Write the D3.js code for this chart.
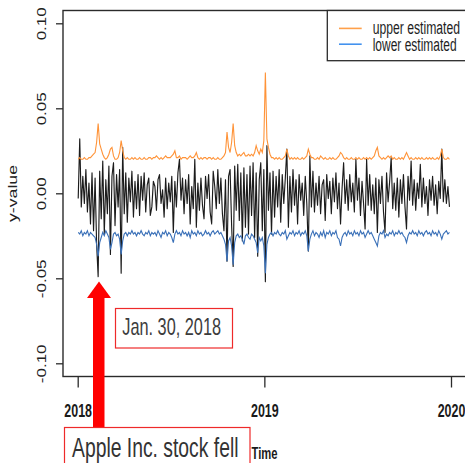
<!DOCTYPE html>
<html>
<head>
<meta charset="utf-8">
<script src="https://cdn.jsdelivr.net/npm/d3@7"></script>
<style>
  html, body { margin: 0; padding: 0; background: #fff; overflow: hidden; }
  svg { display: block; }
  text { font-family: "Liberation Sans", Arial, sans-serif; }
</style>
</head>
<body>
<svg id="chart" width="465" height="463"></svg>
<script>
// ---- data ----------------------------------------------------------------
const yTicks = [-0.10, -0.05, 0.00, 0.05, 0.10];
const yearTicks = ["2018", "2019", "2020"];
const seriesStart = "2018-01-02";   // first observation
const stepDays = 3;                 // spacing between observations

const observed = [
  -0.003, 0.032, -0.008, 0.010, -0.006, 0.014, -0.011, 0.006, -0.018, 0.012,
  -0.022, 0.009, -0.030, -0.049, 0.013, -0.015, 0.019, -0.024, 0.008, -0.012,
  0.016, -0.036, 0.010, 0.018, -0.019, 0.011, -0.008, 0.014, -0.047, 0.027,
  -0.012, 0.012, -0.017, 0.009, -0.005, 0.013, -0.014, 0.007, -0.009, 0.011,
  -0.013, 0.010, -0.004, 0.012, -0.011, 0.005, 0.009, -0.013, -0.008, 0.007,
  0.004, -0.010, 0.008, 0.011, -0.006, 0.002, -0.014, 0.009, -0.009, 0.006,
  -0.005, 0.010, -0.023, 0.007, -0.008, 0.012, 0.020, -0.004, 0.009, -0.012,
  0.008, -0.006, 0.011, -0.018, 0.004, -0.009, 0.020, -0.020, 0.006, -0.010,
  0.009, -0.007, -0.015, 0.010, -0.003, 0.011, -0.011, -0.018, 0.013, 0.004,
  -0.009, 0.014, -0.006, 0.009, -0.012, -0.022, 0.008, -0.040, 0.010, 0.014,
  -0.019, -0.043, 0.016, -0.010, 0.017, -0.016, 0.012, -0.028, 0.015, -0.020,
  0.011, -0.024, 0.016, -0.013, 0.018, -0.026, 0.012, -0.037, 0.008, 0.018,
  -0.022, 0.014, -0.052, 0.028, -0.010, 0.012, -0.024, 0.013, -0.014, 0.010,
  -0.008, 0.014, -0.017, 0.011, -0.006, 0.009, 0.026, -0.020, 0.010, -0.011,
  0.014, -0.007, 0.008, -0.018, 0.011, -0.004, 0.006, -0.013, 0.010, -0.006,
  -0.034, 0.022, -0.008, 0.013, -0.011, 0.006, -0.007, 0.010, -0.012, 0.005,
  0.008, -0.016, 0.011, -0.003, 0.007, -0.012, 0.009, -0.005, 0.012, -0.009,
  0.006, -0.018, 0.003, 0.018, -0.006, 0.008, -0.010, 0.011, -0.005, 0.006,
  -0.011, 0.020, -0.004, 0.009, -0.013, 0.007, -0.006, -0.021, 0.020, -0.007,
  0.011, -0.010, 0.005, -0.012, 0.009, -0.023, 0.008, -0.006, 0.010, -0.011,
  -0.023, 0.012, -0.005, 0.007, 0.021, -0.009, 0.006, -0.010, 0.009, -0.014,
  0.008, -0.006, 0.011, -0.008, -0.021, 0.010, -0.004, 0.019, -0.007, 0.008,
  -0.010, 0.006, -0.003, 0.017, -0.008, 0.009, -0.006, 0.004, -0.013, 0.008,
  -0.004, 0.010, -0.007, 0.005, -0.012, 0.007, -0.003, 0.026, -0.005, 0.008,
  -0.006, 0.004, -0.008
];

const upperEstimated = [
  0.020, 0.021, 0.020, 0.020, 0.021, 0.020, 0.020, 0.021, 0.021, 0.022,
  0.023, 0.024, 0.030, 0.041, 0.029, 0.026, 0.023, 0.021, 0.020, 0.021,
  0.023, 0.026, 0.027, 0.022, 0.020, 0.020, 0.021, 0.024, 0.031, 0.025,
  0.021, 0.020, 0.021, 0.020, 0.020, 0.021, 0.020, 0.021, 0.020, 0.020,
  0.021, 0.020, 0.020, 0.021, 0.020, 0.020, 0.021, 0.021, 0.020, 0.021,
  0.021, 0.022, 0.021, 0.020, 0.021, 0.020, 0.021, 0.022, 0.021, 0.021,
  0.021, 0.022, 0.023, 0.025, 0.021, 0.021, 0.022, 0.020, 0.021, 0.021,
  0.021, 0.020, 0.021, 0.022, 0.021, 0.021, 0.022, 0.024, 0.021, 0.020,
  0.021, 0.020, 0.021, 0.021, 0.020, 0.021, 0.021, 0.020, 0.021, 0.020,
  0.020, 0.021, 0.020, 0.020, 0.021, 0.022, 0.024, 0.036, 0.027, 0.024,
  0.030, 0.041, 0.028, 0.024, 0.022, 0.023, 0.022, 0.023, 0.024, 0.022,
  0.022, 0.023, 0.022, 0.023, 0.022, 0.024, 0.028, 0.025, 0.023, 0.026,
  0.024, 0.031, 0.071, 0.032, 0.027, 0.023, 0.021, 0.021, 0.020, 0.021,
  0.020, 0.021, 0.020, 0.020, 0.021, 0.022, 0.026, 0.022, 0.020, 0.021,
  0.020, 0.021, 0.020, 0.021, 0.020, 0.020, 0.021, 0.020, 0.021, 0.022,
  0.026, 0.023, 0.021, 0.021, 0.020, 0.020, 0.021, 0.020, 0.022, 0.021,
  0.020, 0.021, 0.020, 0.020, 0.021, 0.020, 0.021, 0.020, 0.020, 0.021,
  0.022, 0.024, 0.023, 0.021, 0.020, 0.021, 0.020, 0.020, 0.021, 0.020,
  0.020, 0.021, 0.020, 0.021, 0.020, 0.020, 0.021, 0.020, 0.021, 0.020,
  0.021, 0.020, 0.021, 0.022, 0.025, 0.027, 0.022, 0.021, 0.020, 0.021,
  0.020, 0.021, 0.022, 0.021, 0.022, 0.020, 0.021, 0.020, 0.020, 0.021,
  0.020, 0.021, 0.020, 0.022, 0.024, 0.022, 0.020, 0.021, 0.020, 0.020,
  0.021, 0.020, 0.021, 0.020, 0.021, 0.020, 0.020, 0.021, 0.020, 0.021,
  0.020, 0.021, 0.020, 0.020, 0.021, 0.020, 0.022, 0.026, 0.021, 0.020,
  0.020, 0.021, 0.020
];

const lowerEstimated = [
  -0.023, -0.024, -0.022, -0.025, -0.023, -0.024, -0.022, -0.025, -0.023, -0.024,
  -0.025, -0.026, -0.030, -0.037, -0.029, -0.026, -0.023, -0.025, -0.022, -0.024,
  -0.026, -0.033, -0.029, -0.024, -0.023, -0.025, -0.024, -0.027, -0.036, -0.028,
  -0.024, -0.023, -0.025, -0.023, -0.024, -0.022, -0.024, -0.023, -0.025, -0.023,
  -0.024, -0.022, -0.024, -0.025, -0.023, -0.024, -0.022, -0.025, -0.023, -0.024,
  -0.023, -0.025, -0.022, -0.024, -0.026, -0.023, -0.024, -0.022, -0.025, -0.023,
  -0.024, -0.026, -0.029, -0.024, -0.022, -0.024, -0.023, -0.025, -0.022, -0.024,
  -0.023, -0.025, -0.023, -0.026, -0.022, -0.024, -0.023, -0.025, -0.022, -0.024,
  -0.023, -0.025, -0.024, -0.022, -0.024, -0.023, -0.025, -0.023, -0.022, -0.024,
  -0.023, -0.022, -0.024, -0.023, -0.025, -0.027, -0.030, -0.040, -0.028, -0.026,
  -0.031, -0.042, -0.029, -0.025, -0.024, -0.026, -0.025, -0.027, -0.030, -0.025,
  -0.024, -0.026, -0.027, -0.024, -0.025, -0.027, -0.029, -0.035, -0.026, -0.028,
  -0.026, -0.031, -0.047, -0.030, -0.026, -0.024, -0.023, -0.025, -0.023, -0.024,
  -0.022, -0.024, -0.025, -0.023, -0.024, -0.022, -0.027, -0.025, -0.023, -0.024,
  -0.022, -0.025, -0.023, -0.024, -0.022, -0.025, -0.023, -0.024, -0.022, -0.025,
  -0.034, -0.027, -0.024, -0.022, -0.025, -0.023, -0.024, -0.026, -0.023, -0.025,
  -0.022, -0.026, -0.023, -0.024, -0.022, -0.025, -0.023, -0.024, -0.022, -0.026,
  -0.027, -0.031, -0.026, -0.024, -0.023, -0.025, -0.022, -0.024, -0.023, -0.025,
  -0.022, -0.024, -0.023, -0.025, -0.022, -0.024, -0.023, -0.026, -0.024, -0.022,
  -0.024, -0.023, -0.025, -0.027, -0.029, -0.031, -0.025, -0.023, -0.024, -0.022,
  -0.026, -0.024, -0.025, -0.023, -0.024, -0.022, -0.025, -0.023, -0.024, -0.022,
  -0.024, -0.023, -0.025, -0.026, -0.029, -0.025, -0.023, -0.024, -0.022, -0.024,
  -0.023, -0.025, -0.022, -0.024, -0.023, -0.025, -0.023, -0.022, -0.024, -0.023,
  -0.025, -0.022, -0.024, -0.023, -0.025, -0.022, -0.024, -0.027, -0.024, -0.023,
  -0.022, -0.024, -0.023
];

const legendLabels = ["upper estimated", "lower estimated"];
const annotationDate = "Jan. 30, 2018";
const annotationEvent = "Apple Inc. stock fell";

// ---- layout --------------------------------------------------------------
const svg = d3.select("#chart");
const box = { left: 63, top: 10.5, right: 490, bottom: 376.5 };
const squeeze = 0.7;   // horizontal squeeze used for rotated labels
const ink = "#2b2b2b";

const parseDay = d3.timeParse("%Y-%m-%d");
const start = parseDay(seriesStart);
const withDates = vals => vals.map((v, i) => ({ date: d3.timeDay.offset(start, i * stepDays), v }));

const x = d3.scaleTime()
  .domain([new Date(2018, 0, 1), new Date(2020, 0, 1)])
  .range([77.7, 451]);
const y = d3.scaleLinear().domain([-0.10, 0.10]).range([363.3, 23.3]);

const line = d3.line().x(d => x(d.date)).y(d => y(d.v));

// series
svg.append("path").datum(withDates(observed))
  .attr("d", line).attr("fill", "none")
  .attr("stroke", "#1c1c1c").attr("stroke-width", 1.15).attr("stroke-linejoin", "round");
svg.append("path").datum(withDates(upperEstimated))
  .attr("d", line).attr("fill", "none")
  .attr("stroke", "#ff9338").attr("stroke-width", 1.1);
svg.append("path").datum(withDates(lowerEstimated))
  .attr("d", line).attr("fill", "none")
  .attr("stroke", "#3a70b8").attr("stroke-width", 1.1);

// plot frame
svg.append("rect")
  .attr("x", box.left).attr("y", box.top)
  .attr("width", box.right - box.left).attr("height", box.bottom - box.top)
  .attr("fill", "none").attr("stroke", ink).attr("stroke-width", 1.4);

// y axis
const yAxis = svg.append("g").attr("transform", `translate(${box.left},0)`)
  .call(d3.axisLeft(y).tickValues(yTicks).tickSize(7).tickFormat(d => d.toFixed(2)));
yAxis.select(".domain").remove();
yAxis.selectAll(".tick line").attr("stroke", ink).attr("stroke-width", 1.3);
yAxis.selectAll(".tick text")
  .attr("x", null).attr("dy", null)
  .attr("text-anchor", "middle")
  .attr("font-size", 17)
  .attr("font-family", "Liberation Sans, Arial, sans-serif")
  .attr("fill", "#222")
  .attr("transform", `translate(${46 - box.left},0) scale(${squeeze},1) rotate(-90)`);

// x axis
const xAxis = svg.append("g").attr("transform", `translate(0,${box.bottom})`)
  .call(d3.axisBottom(x)
    .tickValues(yearTicks.map(t => new Date(+t, 0, 1)))
    .tickSize(11)
    .tickFormat(d3.timeFormat("%Y")));
xAxis.select(".domain").remove();
xAxis.selectAll(".tick line").attr("stroke", ink).attr("stroke-width", 1.3);
xAxis.selectAll(".tick text")
  .attr("dy", null).attr("y", 40.2)
  .attr("font-size", 18.6).attr("font-weight", "bold")
  .attr("font-family", "Liberation Sans, Arial, sans-serif")
  .attr("fill", "#1a1a1a")
  .attr("textLength", 27.7).attr("lengthAdjust", "spacingAndGlyphs");

// axis titles
svg.append("text")
  .attr("transform", `translate(16.5,193.5) scale(${squeeze},1) rotate(-90)`)
  .attr("text-anchor", "middle").attr("font-size", 17.7).attr("fill", "#222")
  .text("y-value");
svg.append("text")
  .attr("x", 251.5).attr("y", 459)
  .attr("font-size", 16).attr("font-weight", "bold").attr("fill", "#1a1a1a")
  .attr("textLength", 26).attr("lengthAdjust", "spacingAndGlyphs")
  .text("Time");

// legend
svg.append("rect")
  .attr("x", 327.3).attr("y", box.top).attr("width", 200).attr("height", 50.2)
  .attr("fill", "#fff").attr("stroke", ink).attr("stroke-width", 1.3);
const legendColors = ["#ffa04a", "#4392ee"];
const legendRows = [28.4, 44.2];
const legendBase = [34.2, 51];
const legendWidths = [87.3, 84];
legendLabels.forEach((lab, i) => {
  svg.append("line")
    .attr("x1", 339).attr("x2", 361.7)
    .attr("y1", legendRows[i]).attr("y2", legendRows[i])
    .attr("stroke", legendColors[i]).attr("stroke-width", 1.6);
  svg.append("text")
    .attr("x", 372.7).attr("y", legendBase[i])
    .attr("font-size", 18).attr("fill", "#1e1e1e")
    .attr("textLength", legendWidths[i]).attr("lengthAdjust", "spacingAndGlyphs")
    .text(lab);
});

// event annotation: arrow
svg.append("rect")
  .attr("x", 93).attr("y", 297).attr("width", 11.5).attr("height", 131)
  .attr("fill", "#ff0000");
svg.append("path")
  .attr("d", d3.line()([[87, 298], [111, 298], [99, 281.5]]) + "Z")
  .attr("fill", "#ff0000");

// date callout
svg.append("rect")
  .attr("x", 115.5).attr("y", 308.5).attr("width", 117).attr("height", 39.5)
  .attr("fill", "#fff").attr("stroke", "#ee2a2a").attr("stroke-width", 1.2);
svg.append("text")
  .attr("x", 122.3).attr("y", 335.3)
  .attr("font-size", 24).attr("fill", "#3c3c3c")
  .attr("textLength", 98.7).attr("lengthAdjust", "spacingAndGlyphs")
  .text(annotationDate);

// event callout
svg.append("rect")
  .attr("x", 64.5).attr("y", 427.5).attr("width", 185.5).attr("height", 50)
  .attr("fill", "#fff").attr("stroke", "#ee2a2a").attr("stroke-width", 1.2);
svg.append("text")
  .attr("x", 72).attr("y", 456.7)
  .attr("font-size", 27).attr("fill", "#333")
  .attr("textLength", 166.5).attr("lengthAdjust", "spacingAndGlyphs")
  .text(annotationEvent);
</script>
</body>
</html>
